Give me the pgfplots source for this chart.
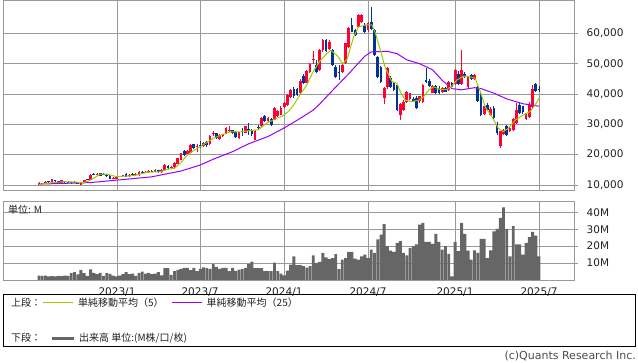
\documentclass[border=0pt]{standalone}
\usepackage{pgfplots}
\pgfplotsset{compat=1.18}
\usepackage{pgfplotstable}
\usepackage{fontspec}
\setmainfont{DejaVu Sans}
\newfontfamily\jp{Noto Sans CJK JP}
\definecolor{cred}{RGB}{255,0,51}
\definecolor{cblue}{RGB}{0,51,153}
\definecolor{cma5}{RGB}{153,204,0}
\definecolor{cma25}{RGB}{153,0,255}
\definecolor{cvol}{RGB}{102,102,102}
\definecolor{gridc}{RGB}{153,153,153}
\definecolor{txt}{RGB}{34,34,34}

\pgfplotstableread{
i O H L C V
0 10000 10900 9900 10700 2.6
1 10300 10800 10200 10600 2.5
2 10500 11200 10400 11100 2.6
3 11200 11400 10800 10900 2.2
4 10900 12100 10800 11900 2.3
5 11600 11800 11100 11400 2.2
6 11300 11400 10400 10600 2.4
7 10600 11700 10500 11600 2.3
8 11100 11300 10800 11000 2.6
9 11000 11200 10700 10900 2.5
10 10900 11100 10300 10700 4.0
11 10900 11400 10700 11100 4.7
12 11000 11100 10300 10400 3.3
13 10000 10800 9900 10700 6.0
14 10800 11700 10700 11600 4.0
15 11800 12000 11500 11600 2.4
16 11700 13500 11600 13300 6.3
17 13600 14100 13200 13400 4.2
18 13400 14000 13200 13700 3.5
19 13800 14000 13000 13100 4.2
20 13700 14000 13300 13500 2.4
21 13300 13500 12700 13000 4.0
22 13100 13200 11900 12000 3.6
23 12100 12500 11900 12300 2.6
24 12000 12900 11900 12700 2.2
25 12700 13000 12500 12800 2.6
26 12900 13400 12700 13100 3.4
27 13600 13800 12600 12800 4.6
28 12900 13500 12700 13300 3.4
29 13600 14000 13100 13400 3.8
30 13400 13800 13100 13600 2.4
31 13300 14600 13100 14400 4.2
32 14300 14700 13900 14100 5.0
33 14100 14700 13900 14300 3.8
34 14300 14800 14000 14600 4.2
35 14600 15000 14300 14500 3.4
36 14400 15300 14200 15100 3.8
37 14900 15100 14100 14300 4.6
38 14300 15300 14100 15000 2.8
39 15000 16800 14900 16500 7.0
40 16400 16600 15300 15500 7.0
41 15500 16200 15300 16000 3.0
42 15800 17500 15600 17300 5.2
43 17000 19000 16800 18800 6.0
44 18300 20600 18100 20400 6.6
45 21200 21600 19700 19900 7.2
46 20300 21500 20100 21300 7.2
47 20700 23400 20500 23200 5.8
48 23400 23600 22000 22200 7.2
49 22600 23500 21000 22900 5.2
50 23300 24400 22100 23000 6.6
51 23000 24300 22700 23800 7.5
52 24200 24600 22500 23200 7.0
53 23400 26400 23200 26200 6.6
54 26700 27800 26300 27100 9.4
55 27000 27300 25300 25600 7.8
56 25100 26800 24900 26500 6.6
57 26000 26900 25800 26700 7.2
58 26900 29000 26700 28700 7.2
59 28000 29300 27500 28200 5.2
60 28000 28300 26800 27000 7.2
61 27500 27700 25400 25700 5.4
62 25400 27600 25200 27400 6.2
63 27700 28700 26100 27500 6.6
64 27300 29500 27100 29300 7.2
65 28600 30400 26500 27700 9.5
66 28200 28500 26300 26700 10.8
67 25000 28300 24800 27900 7.0
68 29000 29800 28300 28700 7.0
69 29400 32400 29200 32100 7.0
70 32600 33000 30900 31200 5.2
71 31000 32300 30800 32100 5.2
72 31900 32100 29600 29800 5.2
73 31500 35600 31300 35300 10.2
74 32700 34600 32500 34300 5.2
75 33200 35900 33000 35400 3.8
76 35600 37400 35300 37200 2.8
77 36500 40000 36000 39600 5.5
78 39000 41600 38700 41300 9.1
79 41700 42300 38800 39200 14.0
80 41500 42000 39400 39800 8.8
81 40200 44800 39800 44300 8.8
82 45800 46500 43300 43700 8.2
83 43800 47900 43500 47500 7.3
84 47400 50300 47100 50000 8.2
85 51200 54200 50000 51700 14.6
86 49600 51300 47000 47400 10.1
87 47900 54700 47500 54400 10.7
88 54500 58200 54000 57800 16.0
89 57800 58300 53800 54200 13.4
90 55000 57800 54600 57300 12.4
91 54500 55000 49300 49600 13.0
92 49000 49500 45400 45700 15.3
93 47200 49600 44500 46800 6.5
94 47400 49900 47100 49600 12.0
95 50100 57000 49800 56700 13.0
96 55600 62000 55300 61700 16.6
97 62700 65200 60300 60600 16.6
98 61100 61600 59000 59500 12.6
99 62200 66500 61800 66000 12.0
100 63800 66300 63400 66000 14.0
101 62700 63300 60200 60500 15.0
102 61000 63600 60500 63300 13.0
103 63700 68700 61000 61500 18.0
104 61000 61500 52500 52800 16.0
105 52100 52600 45200 45500 24.0
106 48800 49300 43600 44000 26.8
107 38600 42200 36800 41900 33.0
108 42200 48800 41800 48500 20.0
109 45200 46000 42000 42400 17.3
110 43500 44000 41000 41300 16.6
111 42900 43400 34300 34700 22.0
112 33000 37200 31600 36800 23.0
113 34700 38000 34300 37400 16.0
114 37400 40900 37000 40700 14.6
115 38500 40500 38000 40200 19.0
116 38500 39000 37300 37600 20.0
117 38800 39300 35000 35500 21.0
118 37600 39500 37200 39200 32.7
119 37300 43200 37000 42900 33.7
120 44600 48500 43800 44100 22.5
121 44300 44800 42400 42700 22.5
122 40500 43000 40200 42700 21.3
123 42500 43000 40000 40300 27.2
124 42100 42500 40000 40300 22.5
125 40800 42200 40500 41900 18.0
126 41900 42200 40600 40800 20.0
127 41300 44300 41000 44000 15.4
128 43500 44000 42200 42400 2.2
129 43400 48200 43000 47800 22.5
130 46700 47500 43000 43400 17.0
131 43400 54400 43000 47900 33.7
132 46700 47200 45300 45800 27.2
133 42300 46000 42000 45600 17.3
134 46200 46600 44500 44800 12.0
135 44800 46600 44500 46200 17.5
136 42300 42800 37300 37700 16.0
137 39500 40500 32800 33100 24.3
138 33300 36500 33000 35900 24.3
139 36300 37000 34400 34700 13.0
140 33000 35600 32600 35200 17.5
141 35500 36000 31800 32200 28.8
142 29800 30800 26600 27100 30.2
143 22800 27900 22200 27700 36.7
144 26900 28500 26500 28100 43.0
145 29300 29800 26000 26500 30.2
146 27800 29000 27500 28700 14.0
147 28100 32200 27800 31900 31.8
148 30300 37000 30000 34700 21.0
149 36400 37500 33300 33600 21.0
150 35900 36200 33300 34100 15.0
151 31900 33900 31500 33600 22.0
152 32500 37300 32200 36300 25.4
153 35600 43000 35000 41600 28.4
154 43300 43600 40800 41100 26.2
155 41500 42500 40800 41200 14.0
}\candles

\pgfplotsset{
  panel/.style={
    scale only axis, anchor=south west,
    width=571pt,
    xmin=-11.16, xmax=165.84,
    xtick={24.18,49.91,75.95,101.98,128.95,155.0},
    xtick style={draw=none},
    grid=major, grid style={draw=gridc, line width=0.8pt},
    axis line style={draw=gridc, line width=0.8pt},
    ytick pos=right, yticklabel pos=right,
    tick align=outside, major tick length=4pt,
    ytick style={draw=gridc, line width=0.8pt},
    scaled ticks=false,
    ticklabel style={font=\fontsize{10.5}{12}\selectfont, text=txt},
    yticklabel style={anchor=west, inner sep=0pt, xshift=8.5pt},
  },
  wick/.style={forget plot, draw=none, mark=none,
    error bars/y dir=plus, error bars/y explicit, error bars/error mark=none,
    error bars/error bar style={draw=#1, line width=1pt}},
  body/.style={forget plot, draw=none, mark=none,
    error bars/y dir=plus, error bars/y explicit, error bars/error mark=none,
    error bars/error bar style={draw=#1, line width=2.7pt}},
}

\begin{document}
\begin{tikzpicture}[x=1pt,y=1pt]
\useasboundingbox (0,0) rectangle (638,362);

\begin{axis}[panel, at={(3pt,172pt)}, height=189.5pt,
  ymin=8355, ymax=70855,
  xticklabels={},
  ytick={10000,20000,30000,40000,50000,60000},
  yticklabels={{10,000},{20,000},{30,000},{40,000},{50,000},{60,000}},
]
\addplot[wick=cred, restrict expr to domain={\thisrow{C}-\thisrow{O}}{0:1000000}]
  table[x=i, y=L, y error plus expr={\thisrow{H}-\thisrow{L}}] {\candles};
\addplot[body=cred, restrict expr to domain={\thisrow{C}-\thisrow{O}}{0:1000000}]
  table[x=i, y expr={min(\thisrow{O},\thisrow{C})}, y error plus expr={max(abs(\thisrow{C}-\thisrow{O}),250)}] {\candles};
\addplot[wick=cblue, restrict expr to domain={\thisrow{C}-\thisrow{O}}{-1000000:-1}]
  table[x=i, y=L, y error plus expr={\thisrow{H}-\thisrow{L}}] {\candles};
\addplot[body=cblue, restrict expr to domain={\thisrow{C}-\thisrow{O}}{-1000000:-1}]
  table[x=i, y expr={min(\thisrow{O},\thisrow{C})}, y error plus expr={max(abs(\thisrow{C}-\thisrow{O}),250)}] {\candles};
% 25-week moving average
\addplot[cma25, line width=1pt] coordinates {
(0,10300) (16,10800) (24,11600) (30,12200) (35,12700) (40,13800) (44,14600)
(50,16600) (54,18500) (60,21000) (65,23600) (68,24800) (71,26000) (76,28800)
(81,32000) (85,34700) (87,36700) (91,41200) (96,46700) (101,52500) (103,53900)
(108,54100) (111,53300) (114,51300) (118,50000) (122,48000) (125,44500)
(128,41800) (131,41400) (135,42100) (137,41800) (141,40300) (145,38400)
(150,36800) (155,36000)};
% 5-week moving average
\addplot[cma5, line width=1pt] coordinates {
(0,10200) (4,10800) (8,11100) (14,10800) (16,11650) (19,13600) (21,13600)
(24,12750) (29.5,13100) (33.5,14200) (37.7,14400) (39.8,15200) (42,15500)
(44,17400) (46,19900) (48,21400) (51,23300) (54.2,25500) (57.2,26800)
(59.3,27500) (62.4,27500) (65,27900) (68.1,28250) (70.1,30100) (72.7,31550)
(75.3,32650) (77.4,34300) (79,36500) (81,39900) (83,43000) (85,47400)
(87,50800) (89.3,53400) (90.5,54400) (92.6,52500) (94.2,50000) (95.5,51500)
(97.5,58800) (99,62100) (101.5,62800) (103.2,62800) (104.3,60000) (105.8,54500)
(107.4,48500) (109.4,44100) (111,43500) (112,40800) (113.5,38000) (115.6,37500)
(117.7,38000) (119.2,39100) (120.8,41300) (122.3,42400) (124.4,41500)
(126.4,41500) (128,42600) (129.5,44600) (131.6,45900) (133.7,45700)
(135.2,45200) (136.8,40800) (138.3,35800) (140.4,32500) (142.4,28700)
(143.9,27600) (145.5,28700) (147.6,31400) (150.2,33100) (152.2,34200)
(153.8,36400) (155,38600)};
\end{axis}

\begin{axis}[panel, at={(3pt,82pt)}, height=79pt,
  ymin=0, ymax=46.7,
  xticklabels={2023/1,2023/7,2024/1,2024/7,2025/1,2025/7},
  ytick={10,20,30,40},
  yticklabels={10M,20M,30M,40M},
]
\addplot[ybar, bar width=2.9pt, fill=cvol, draw=none] table[x=i, y=V] {\candles};
\end{axis}

\node[anchor=base west, inner sep=0pt, text=txt, font=\jp\fontsize{10}{12}\selectfont] at (8,148.5) {単位: M};

% legend box
\draw[black, line width=0.8pt] (3.4,15.3) rectangle (635,68);
\node[anchor=west, inner sep=0pt, text=txt, font=\jp\fontsize{10}{12}\selectfont] at (11,59) {上段：};
\draw[cma5, line width=1pt] (43,59) -- (73,59);
\node[anchor=west, inner sep=0pt, text=txt, font=\jp\fontsize{10}{12}\selectfont] at (78,59) {単純移動平均（5）};
\draw[cma25, line width=1pt] (172,59) -- (202,59);
\node[anchor=west, inner sep=0pt, text=txt, font=\jp\fontsize{10}{12}\selectfont] at (206.5,59) {単純移動平均（25）};
\node[anchor=west, inner sep=0pt, text=txt, font=\jp\fontsize{10}{12}\selectfont] at (11,24) {下段：};
\draw[cvol, line width=3pt] (52,24) -- (74,24);
\node[anchor=west, inner sep=0pt, text=txt, font=\jp\fontsize{10}{12}\selectfont] at (79,24) {出来高 単位:(M株/口/枚)};

\node[anchor=base east, inner sep=0pt, text=black!70, font=\fontsize{11}{13}\selectfont] at (636,2.5) {(c)Quants Research Inc.};
\end{tikzpicture}
\end{document}
